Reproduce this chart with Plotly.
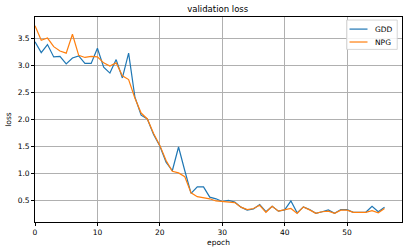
import plotly.graph_objects as go

epochs = list(range(57))
gdd = [3.44, 3.24, 3.39, 3.16, 3.17, 3.03, 3.14, 3.18, 3.04, 3.04,
       3.32, 2.97, 2.86, 3.11, 2.77, 3.23, 2.42, 2.08, 2.01, 1.72,
       1.51, 1.21, 1.05, 1.49, 1.05, 0.63, 0.75, 0.75, 0.56, 0.53,
       0.48, 0.50, 0.47, 0.375, 0.32, 0.34, 0.425, 0.29, 0.39, 0.30,
       0.325, 0.49, 0.27, 0.38, 0.33, 0.26, 0.29, 0.325, 0.26, 0.33,
       0.33, 0.28, 0.28, 0.28, 0.39, 0.29, 0.375]
npg = [3.74, 3.47, 3.51, 3.35, 3.27, 3.23, 3.58, 3.19, 3.15, 3.17,
       3.16, 3.05, 2.99, 3.05, 2.81, 2.74, 2.40, 2.12, 2.01, 1.74,
       1.52, 1.24, 1.04, 1.01, 0.94, 0.64, 0.57, 0.55, 0.53, 0.49,
       0.48, 0.48, 0.46, 0.375, 0.33, 0.35, 0.41, 0.28, 0.39, 0.30,
       0.32, 0.35, 0.26, 0.38, 0.325, 0.26, 0.29, 0.30, 0.26, 0.32,
       0.32, 0.28, 0.28, 0.28, 0.31, 0.27, 0.35]
series_names = ["GDD", "NPG"]
series_colors = ["#1f77b4", "#ff7f0e"]
x_ticks = [0, 10, 20, 30, 40, 50]
y_ticks = [0.5, 1.0, 1.5, 2.0, 2.5, 3.0, 3.5]

fig = go.Figure()
for name, vals, col in zip(series_names, [gdd, npg], series_colors):
    fig.add_trace(go.Scatter(x=epochs, y=vals, mode="lines", name=name,
                             line=dict(color=col, width=1.2), showlegend=False))

axis_common = dict(showline=True, linecolor="black", linewidth=0.8, mirror=True,
                   showgrid=True, gridcolor="#b0b0b0", gridwidth=0.8,
                   ticks="outside", ticklen=3, tickwidth=0.8, tickcolor="black",
                   zeroline=False, automargin=False, tickfont=dict(size=7.5, color="black"))

fig.update_layout(
    width=407, height=252,
    margin=dict(l=35, r=5, t=17, b=30),
    paper_bgcolor="white", plot_bgcolor="white",
    font=dict(family="DejaVu Sans", size=7.5, color="black"),
    title=dict(text="validation loss", x=0.535, xanchor="center", y=0.965, yanchor="middle",
               font=dict(size=8.5)),
    xaxis=dict(range=[0, 58.8], tickvals=x_ticks, ticktext=[str(v) for v in x_ticks],
               title=dict(text="epoch", font=dict(size=7.5), standoff=3), **axis_common),
    yaxis=dict(range=[0.1, 3.9], tickvals=y_ticks, ticktext=[f"{v:.1f}" for v in y_ticks],
               title=dict(text="loss", font=dict(size=7.5), standoff=5), **axis_common),
    showlegend=False,
)

# manual legend (matplotlib style), in paper coordinates
fig.add_shape(type="rect", xref="paper", yref="paper", x0=0.849, x1=0.987, y0=0.842, y1=0.985,
              line=dict(color="#cccccc", width=0.8), fillcolor="rgba(255,255,255,0.85)", layer="above")
legend_y = [0.941, 0.878]
for name, col, ly in zip(series_names, series_colors, legend_y):
    fig.add_shape(type="line", xref="paper", yref="paper", x0=0.857, x1=0.906, y0=ly, y1=ly,
                  line=dict(color=col, width=1.2), layer="above")
    fig.add_annotation(text=name, xref="paper", yref="paper", x=0.921, y=ly, xanchor="left",
                       yanchor="middle", showarrow=False, font=dict(size=7.5, color="black"))

fig.write_html("out.html", config={"displayModeBar": False},
               post_script="document.body.style.margin='0';document.body.style.padding='0';")
